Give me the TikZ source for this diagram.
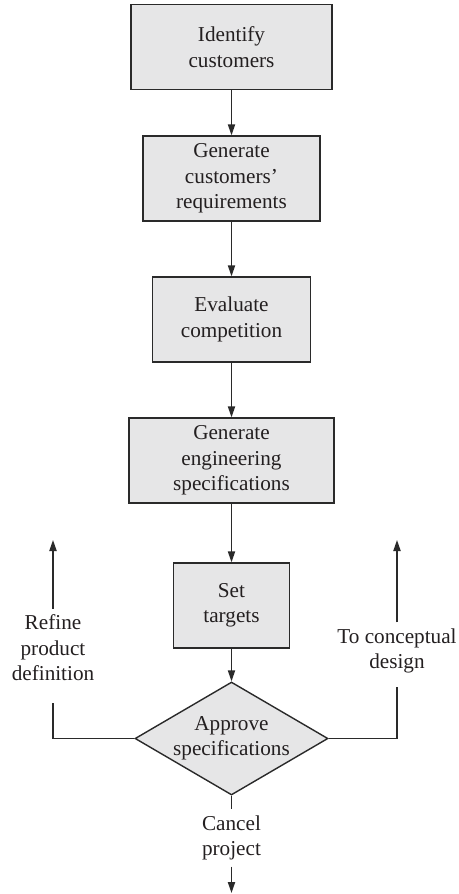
\documentclass[tikz,border=0pt]{standalone}
\usepackage{fontspec}
\setmainfont{Liberation Serif}
\usetikzlibrary{arrows.meta, shapes.geometric}
\definecolor{ink}{HTML}{231F20}
\definecolor{edge}{HTML}{2A2A2A}
\definecolor{shade}{HTML}{E6E6E7}
\tikzset{
  font=\fontsize{10.6}{12.7}\selectfont,
  >={Triangle[length=5.5pt, width=3.6pt]},
  %
  stage/.style={
    draw=edge, line width=0.7pt, fill=shade, align=center, text=ink,
    inner sep=2pt, minimum height=42.5pt,
  },
  gate/.style={stage, diamond, aspect=1.7, inner sep=0pt,
               minimum width=96.5pt, minimum height=56.5pt},
  %
  flow/.style={draw=edge, line width=0.7pt, ->},
  link/.style={draw=edge, line width=0.7pt},
  %
  lbl/.style={align=center, text=ink, inner sep=3pt},
}

\begin{document}
\begin{tikzpicture}[x=0.5pt, y=-0.5pt]
\useasboundingbox (0,0) rectangle (459,894);

% =========================================================================
% main column
\node[stage, minimum width=100.5pt] (ident)   at (231.5,47)    {Identify\\customers};
\node[stage, minimum width=88.5pt]  (reqs)    at (231.5,178.5) {Generate\\customers'\\requirements};
\node[stage, minimum width=79pt]    (compet)  at (231.5,319.5) {Evaluate\\competition};
\node[stage, minimum width=102.5pt] (engspec) at (231.5,460.5) {Generate\\engineering\\specifications};
\node[stage, minimum width=58pt]    (targets) at (231.5,605.5) {Set\\targets};
\node[gate] (approve) at (231.5,738.5) {Approve\\specifications};

\draw[flow] (ident) -- (reqs);
\draw[flow] (reqs) -- (compet);
\draw[flow] (compet) -- (engspec);
\draw[flow] (engspec) -- (targets);
\draw[flow] (targets) -- (approve);

% =========================================================================
% exits from the decision
\node[lbl] (refine)  at (53,648)    {Refine\\product\\definition};
\node[lbl] (concept) at (397,651)   {To conceptual\\design};
\node[lbl] (cancel)  at (231.5,838) {Cancel\\project};

\coordinate (refinetip)  at (53,540);
\coordinate (concepttip) at (397,540);
\coordinate (canceltip)  at (231.5,893);

\draw[link] (approve.west) -| ([yshift=-8pt]refine.south);
\draw[flow] (refine.north) -- (refinetip);
\draw[link] (approve.east) -| ([yshift=-3.5pt]concept.south);
\draw[flow] (concept.north) -- (concepttip);
\draw[link] (approve.south) -- (cancel.north);
\draw[flow] (cancel.south) -- (canceltip);

\end{tikzpicture}
\end{document}
